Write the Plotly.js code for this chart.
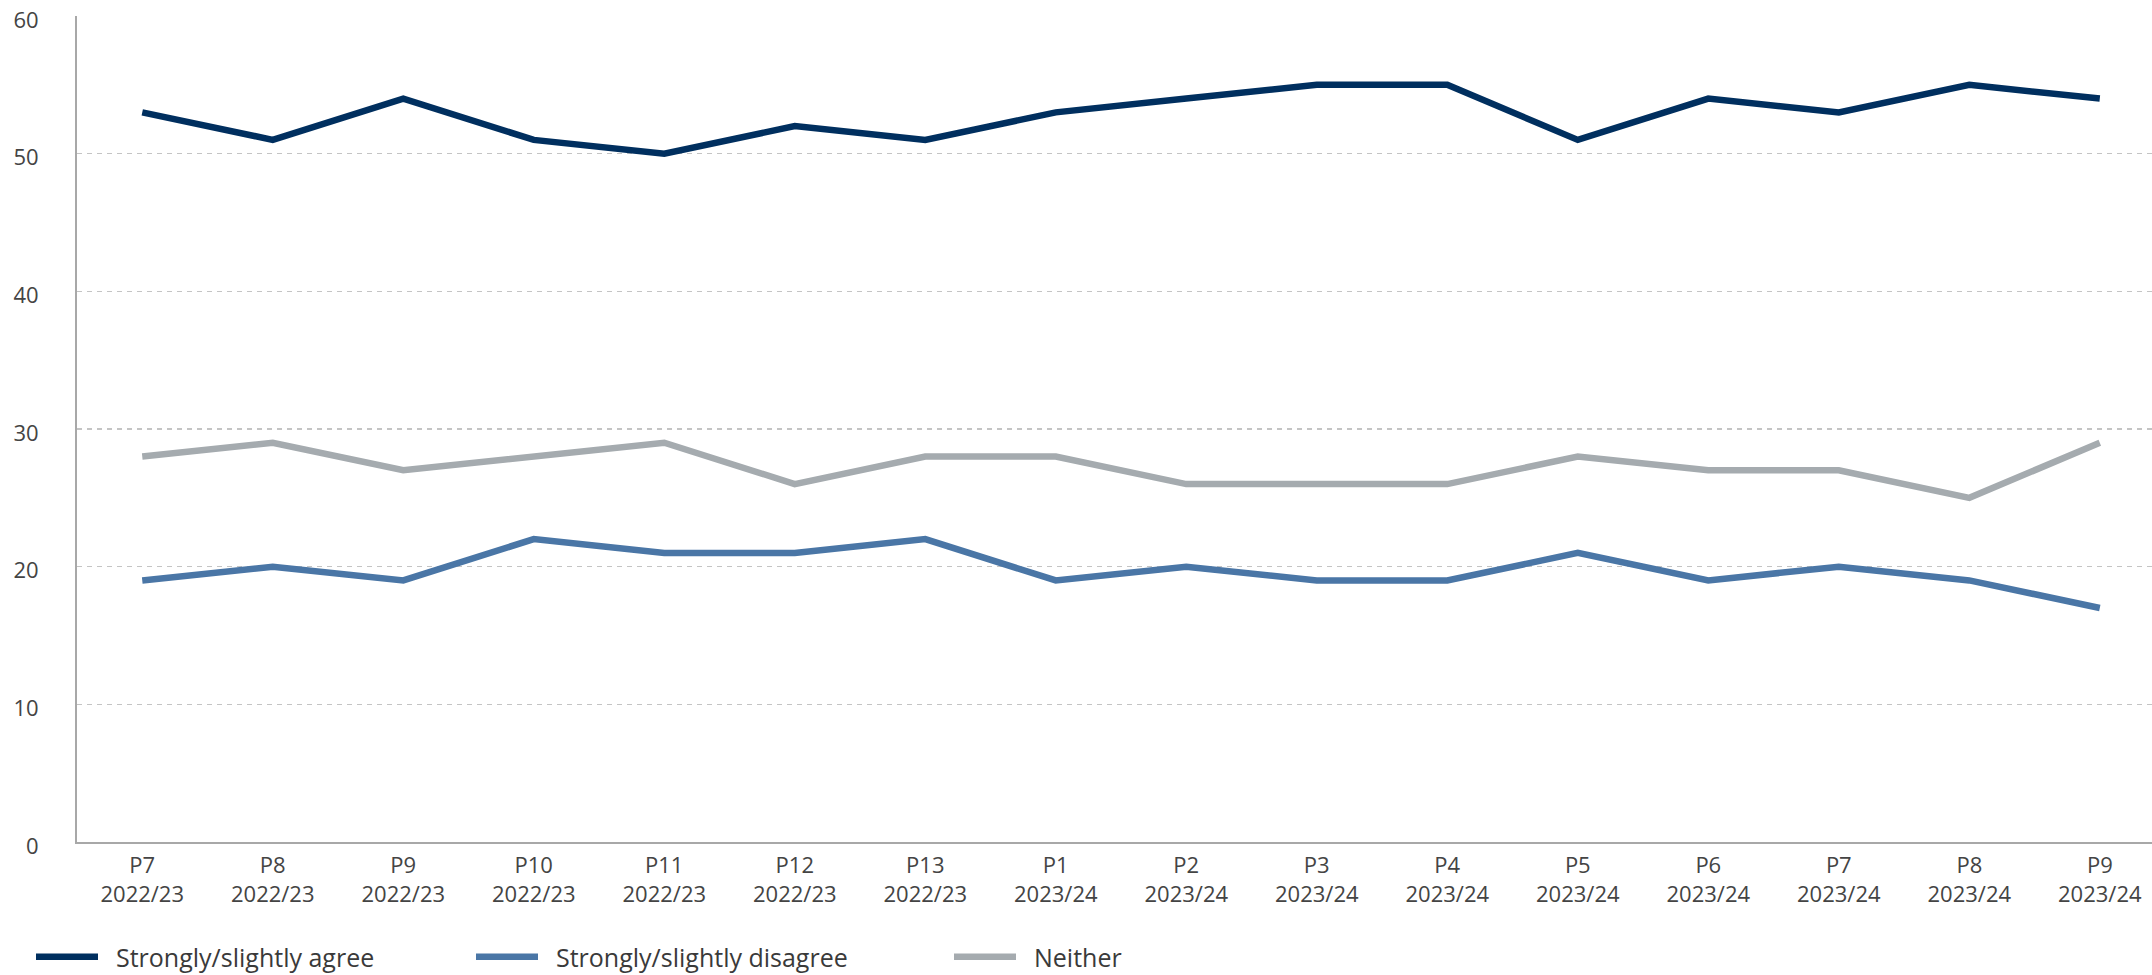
<!DOCTYPE html>
<html>
<head>
<meta charset="utf-8">
<script src="https://cdn.plot.ly/plotly-3.0.1.min.js"></script>
<style>html,body{margin:0;padding:0;background:#fff;}#chart{width:2152px;height:975px;}</style>
</head>
<body>
<div id="chart"></div>
<script>
const periods = ["P7","P8","P9","P10","P11","P12","P13","P1","P2","P3","P4","P5","P6","P7","P8","P9"];
const years = ["2022/23","2022/23","2022/23","2022/23","2022/23","2022/23","2022/23","2023/24","2023/24","2023/24","2023/24","2023/24","2023/24","2023/24","2023/24","2023/24"];
const agree = [53,51,54,51,50,52,51,53,54,55,55,51,54,53,55,54];
const disagree = [19,20,19,22,21,21,22,19,20,19,19,21,19,20,19,17];
const neither = [28,29,27,28,29,26,28,28,26,26,26,28,27,27,25,29];
const seriesNames = ["Strongly/slightly agree","Strongly/slightly disagree","Neither"];
const seriesColors = ["#002f5f","#4a76a6","#a5abaf"];

const xIdx = periods.map((_, i) => i);
const tickText = periods.map((p, i) => p + "<br>" + years[i]);
const font = "Open Sans, Lato, sans-serif";

const allSeries = [agree, disagree, neither];
const legendIds = ["legend","legend2","legend3"];
const traces = allSeries.map((vals, k) => ({
  x: xIdx, y: vals, type: "scatter", mode: "lines",
  name: "\u00a0\u00a0" + seriesNames[k], legend: legendIds[k],
  line: {color: seriesColors[k], width: 6.5}
}));

function leg(xpx){
  return {xref:"container", yref:"container", x: xpx/2152, y: 18/975, xanchor:"left", yanchor:"middle",
    orientation:"h", font:{family:font, size:25, color:"#3a3a3a"}, itemwidth: 62, bgcolor:"rgba(0,0,0,0)"};
}

const layout = {
  width: 2152, height: 975,
  margin: {l: 77, r: 0, t: 16, b: 133},
  paper_bgcolor: "#fff", plot_bgcolor: "#fff",
  showlegend: true,
  legend: leg(31), legend2: leg(471), legend3: leg(949),
  xaxis: {
    range: [-0.5, 15.4], tickmode: "array", tickvals: xIdx, ticktext: tickText,
    showgrid: false, zeroline: false, showline: true, linecolor: "#a8a8a8", linewidth: 2,
    ticks: "", tickfont: {family: font, size: 22, color: "#444"}, ticklabelstandoff: 3
  },
  yaxis: {
    range: [0, 60], tickvals: [0,10,20,30,40,50,60], showgrid: true, gridcolor: "#c4c4c4",
    griddash: "5px,5px", gridwidth: 1.5, zeroline: false, showline: true, linecolor: "#a8a8a8", linewidth: 2,
    ticks: "", tickfont: {family: font, size: 22, color: "#444"}, ticklabelstandoff: 32,
    ticklabeloverflow: "allow", ticklabelshift: 4
  }
};
Plotly.newPlot("chart", traces, layout, {displayModeBar: false, staticPlot: true});
</script>
</body>
</html>
